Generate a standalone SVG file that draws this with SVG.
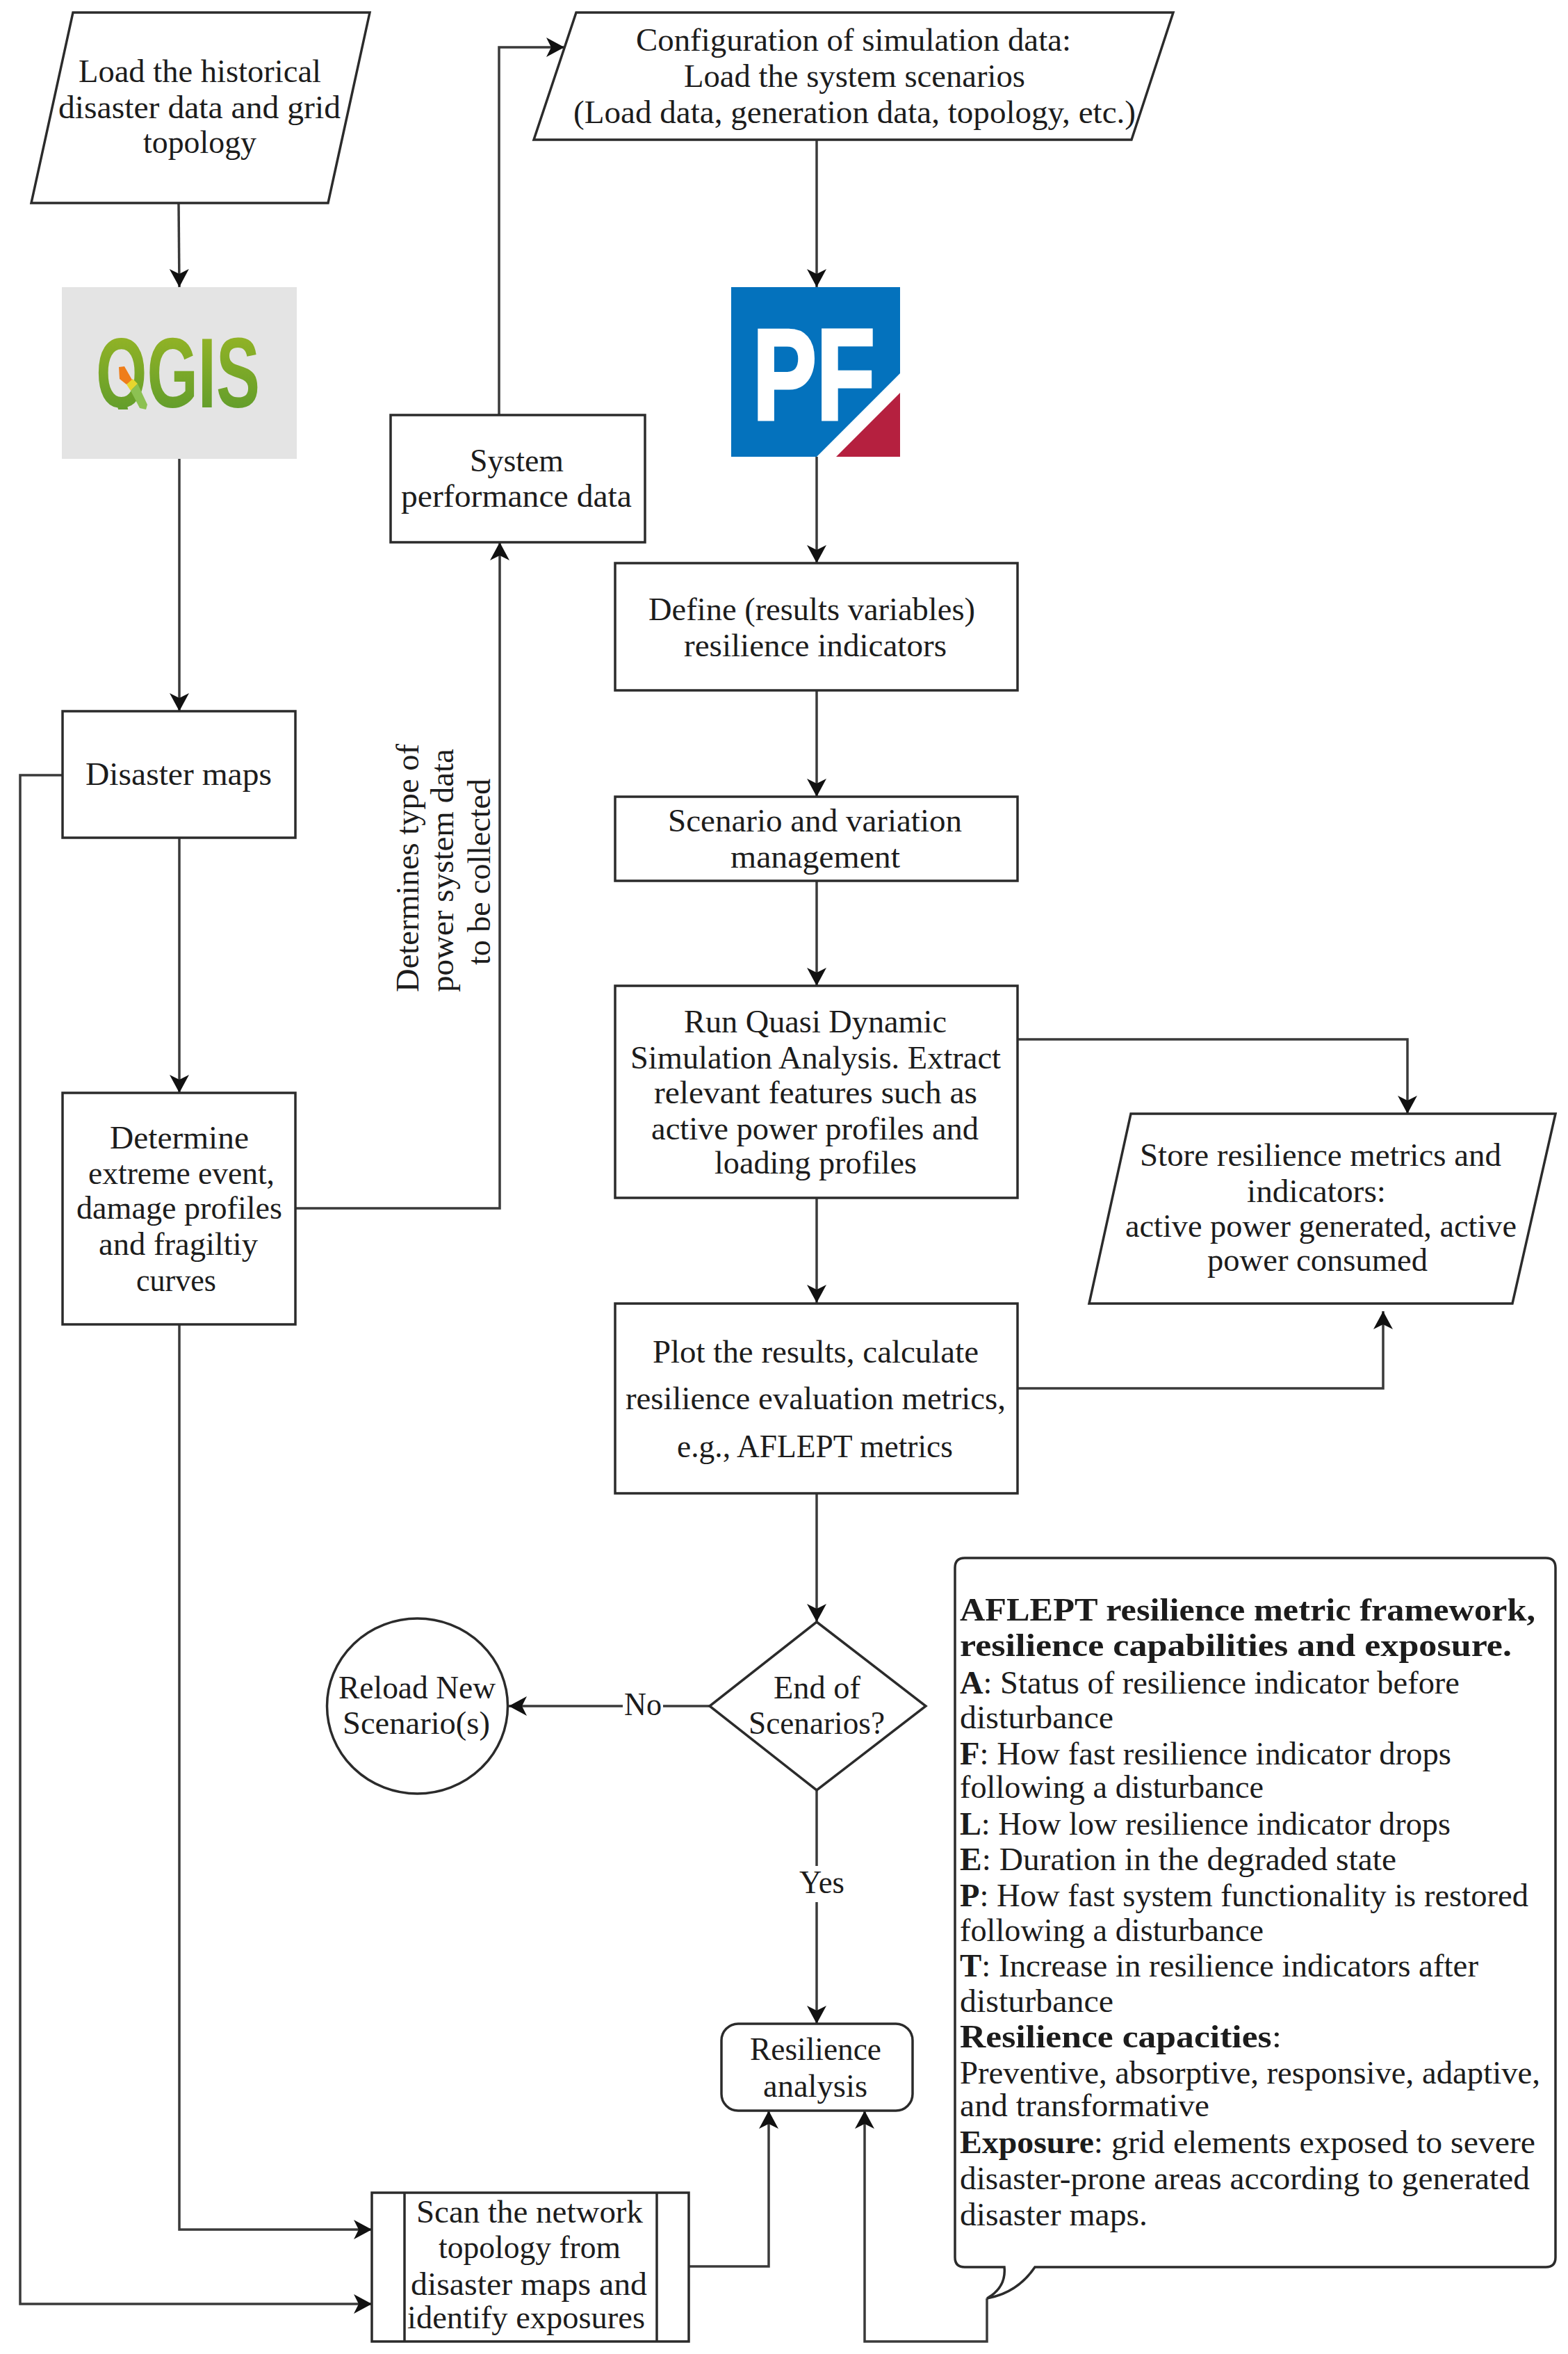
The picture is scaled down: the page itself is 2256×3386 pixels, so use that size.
<svg xmlns="http://www.w3.org/2000/svg" width="2256" height="3386" viewBox="0 0 2256 3386">
<style>
.n{fill:#fff;stroke:#2b2b2b;stroke-width:3.5}
.c{fill:none;stroke:#3a3a3a;stroke-width:3.5}
text{font-family:"Liberation Serif",serif;font-size:46px;fill:#1c1c1c}
.b{font-weight:bold}
</style>
<defs>
<marker id="a" markerUnits="userSpaceOnUse" markerWidth="30" markerHeight="32" refX="26" refY="14" orient="auto"><path d="M0 0L26 14L0 28L7 14Z" fill="#111"/></marker>
<linearGradient id="qg" x1="0" y1="0" x2="0" y2="1"><stop offset="0" stop-color="#9db824"/><stop offset="1" stop-color="#57982d"/></linearGradient>
</defs>
<rect width="2256" height="3386" fill="#fff"/>
<g id="connectors">
<path class="c" marker-end="url(#a)" d="M257 292L258 413"/>
<path class="c" marker-end="url(#a)" d="M258 660V1023"/>
<path class="c" marker-end="url(#a)" d="M258 1205V1572"/>
<path class="c" marker-end="url(#a)" d="M90 1115H29V3314H535"/>
<path class="c" marker-end="url(#a)" d="M258 1905V3207H535"/>
<path class="c" marker-end="url(#a)" d="M425 1738H719V780"/>
<path class="c" marker-end="url(#a)" d="M718 597V68H812"/>
<path class="c" marker-end="url(#a)" d="M1175 201V413"/>
<path class="c" marker-end="url(#a)" d="M1175 657V810"/>
<path class="c" marker-end="url(#a)" d="M1175 993V1146"/>
<path class="c" marker-end="url(#a)" d="M1175 1267V1418"/>
<path class="c" marker-end="url(#a)" d="M1175 1723V1874"/>
<path class="c" marker-end="url(#a)" d="M1175 2148V2333"/>
<path class="c" marker-end="url(#a)" d="M1175 2575V2911"/>
<path class="c" marker-end="url(#a)" d="M1464 1495H2025V1602"/>
<path class="c" marker-end="url(#a)" d="M1464 1997H1990V1886"/>
<path class="c" marker-end="url(#a)" d="M1021 2454H732"/>
<path class="c" marker-end="url(#a)" d="M991 3260H1106V3036"/>
<path class="c" marker-end="url(#a)" d="M1420 3306V3368H1244V3036"/>
<rect x="896" y="2425" width="58" height="56" fill="#fff"/>
<text x="898" y="2467" textLength="54" lengthAdjust="spacingAndGlyphs">No</text>
<rect x="1148" y="2684" width="69" height="52" fill="#fff"/>
<text x="1150" y="2723" textLength="65" lengthAdjust="spacingAndGlyphs">Yes</text>
<g id="edge-note">
<text transform="translate(602 1427) rotate(-90)" textLength="357" lengthAdjust="spacingAndGlyphs">Determines type of</text>
<text transform="translate(652 1427) rotate(-90)" textLength="350" lengthAdjust="spacingAndGlyphs">power system data</text>
<text transform="translate(705 1388) rotate(-90)" textLength="268" lengthAdjust="spacingAndGlyphs">to be collected</text>
</g>
</g>
<g id="load-historical">
<path class="n" d="M105 18H532L472 292H45Z"/>
<text x="113" y="118" textLength="349" lengthAdjust="spacingAndGlyphs">Load the historical</text>
<text x="84" y="170" textLength="406" lengthAdjust="spacingAndGlyphs">disaster data and grid</text>
<text x="206" y="220" textLength="163" lengthAdjust="spacingAndGlyphs">topology</text>
</g>
<g id="qgis">
<rect x="89" y="413" width="338" height="247" fill="#e4e4e4"/>
<text x="138" y="586" textLength="236" lengthAdjust="spacingAndGlyphs" style="font-family:'Liberation Sans',sans-serif;font-weight:bold;font-size:142px;fill:url(#qg)">QGIS</text>
<rect x="136" y="589" width="110" height="30" fill="#e4e4e4"/>
<path d="M171 528L179 527L191 548L182 553L172 545Z" fill="#ef7d1a"/>
<path d="M182 553L191 545L198 552L188 562Z" fill="#e6d62e"/>
<path d="M188 562L198 552L212 582L210 589L201 587Z" fill="#8cc152"/>
</g>
<g id="system-performance">
<rect class="n" x="562" y="597" width="366" height="183"/>
<text x="676" y="678" textLength="135" lengthAdjust="spacingAndGlyphs">System</text>
<text x="577" y="729" textLength="332" lengthAdjust="spacingAndGlyphs">performance data</text>
</g>
<g id="config">
<path class="n" d="M829 18H1688L1628 201H768Z"/>
<text x="915" y="73" textLength="626" lengthAdjust="spacingAndGlyphs">Configuration of simulation data:</text>
<text x="984" y="125" textLength="491" lengthAdjust="spacingAndGlyphs">Load the system scenarios</text>
<text x="825" y="177" textLength="809" lengthAdjust="spacingAndGlyphs">(Load data, generation data, topology, etc.)</text>
</g>
<g id="powerfactory">
<rect x="1052" y="413" width="243" height="244" fill="#0472bd"/>
<path d="M1295 537V657H1175Z" fill="#fff"/>
<path d="M1295 565V657H1203Z" fill="#b5203f"/>
<text x="1083" y="603" textLength="176" lengthAdjust="spacingAndGlyphs" style="font-family:'Liberation Sans',sans-serif;font-weight:bold;font-size:186px;fill:#fff;stroke:#fff;stroke-width:5">PF</text>
</g>
<g id="define">
<rect class="n" x="885" y="810" width="579" height="183"/>
<text x="933" y="892" textLength="470" lengthAdjust="spacingAndGlyphs">Define (results variables)</text>
<text x="984" y="944" textLength="378" lengthAdjust="spacingAndGlyphs">resilience indicators</text>
</g>
<g id="scenario">
<rect class="n" x="885" y="1146" width="579" height="121"/>
<text x="961" y="1196" textLength="423" lengthAdjust="spacingAndGlyphs">Scenario and variation</text>
<text x="1051" y="1248" textLength="244" lengthAdjust="spacingAndGlyphs">management</text>
</g>
<g id="run">
<rect class="n" x="885" y="1418" width="579" height="305"/>
<text x="984" y="1485" textLength="378" lengthAdjust="spacingAndGlyphs">Run Quasi Dynamic</text>
<text x="907" y="1537" textLength="533" lengthAdjust="spacingAndGlyphs">Simulation Analysis. Extract</text>
<text x="941" y="1587" textLength="465" lengthAdjust="spacingAndGlyphs">relevant features such as</text>
<text x="937" y="1639" textLength="471" lengthAdjust="spacingAndGlyphs">active power profiles and</text>
<text x="1028" y="1688" textLength="291" lengthAdjust="spacingAndGlyphs">loading profiles</text>
</g>
<g id="store">
<path class="n" d="M1627 1602H2238L2176 1875H1567Z"/>
<text x="1640" y="1677" textLength="520" lengthAdjust="spacingAndGlyphs">Store resilience metrics and</text>
<text x="1794" y="1729" textLength="200" lengthAdjust="spacingAndGlyphs">indicators:</text>
<text x="1619" y="1779" textLength="563" lengthAdjust="spacingAndGlyphs">active power generated, active</text>
<text x="1737" y="1828" textLength="317" lengthAdjust="spacingAndGlyphs">power consumed</text>
</g>
<g id="plot">
<rect class="n" x="885" y="1875" width="579" height="273"/>
<text x="939" y="1960" textLength="469" lengthAdjust="spacingAndGlyphs">Plot the results, calculate</text>
<text x="900" y="2027" textLength="547" lengthAdjust="spacingAndGlyphs">resilience evaluation metrics,</text>
<text x="974" y="2096" textLength="397" lengthAdjust="spacingAndGlyphs">e.g., AFLEPT metrics</text>
</g>
<g id="disaster-maps">
<rect class="n" x="90" y="1023" width="335" height="182"/>
<text x="123" y="1129" textLength="268" lengthAdjust="spacingAndGlyphs">Disaster maps</text>
</g>
<g id="determine">
<rect class="n" x="90" y="1572" width="335" height="333"/>
<text x="158" y="1652" textLength="200" lengthAdjust="spacingAndGlyphs">Determine</text>
<text x="127" y="1703" textLength="268" lengthAdjust="spacingAndGlyphs">extreme event,</text>
<text x="110" y="1753" textLength="296" lengthAdjust="spacingAndGlyphs">damage profiles</text>
<text x="142" y="1805" textLength="229" lengthAdjust="spacingAndGlyphs">and fragiltiy</text>
<text x="196" y="1857" textLength="115" lengthAdjust="spacingAndGlyphs">curves</text>
</g>
<g id="end-of-scenarios">
<path class="n" d="M1175 2333L1332 2454L1175 2575L1021 2454Z"/>
<text x="1113" y="2443" textLength="125" lengthAdjust="spacingAndGlyphs">End of</text>
<text x="1077" y="2494" textLength="196" lengthAdjust="spacingAndGlyphs">Scenarios?</text>
</g>
<g id="reload">
<ellipse class="n" cx="600.5" cy="2454" rx="130" ry="126"/>
<text x="487" y="2443" textLength="226" lengthAdjust="spacingAndGlyphs">Reload New</text>
<text x="493" y="2494" textLength="212" lengthAdjust="spacingAndGlyphs">Scenario(s)</text>
</g>
<g id="resilience-analysis">
<rect class="n" x="1038" y="2911" width="275" height="125" rx="24"/>
<text x="1079" y="2963" textLength="189" lengthAdjust="spacingAndGlyphs">Resilience</text>
<text x="1098" y="3016" textLength="150" lengthAdjust="spacingAndGlyphs">analysis</text>
</g>
<g id="scan">
<rect class="n" x="535" y="3154" width="456" height="214"/>
<path class="n" d="M582 3154V3368M945 3154V3368"/>
<text x="599" y="3197" textLength="326" lengthAdjust="spacingAndGlyphs">Scan the network</text>
<text x="631" y="3248" textLength="262" lengthAdjust="spacingAndGlyphs">topology from</text>
<text x="591" y="3301" textLength="340" lengthAdjust="spacingAndGlyphs">disaster maps and</text>
<text x="586" y="3349" textLength="342" lengthAdjust="spacingAndGlyphs">identify exposures</text>
</g>
<g id="aflept-note">
<path class="n" d="M1388 2241H2224Q2238 2241 2238 2255V3247Q2238 3261 2224 3261H1489Q1464 3298 1420 3306Q1448 3290 1445 3261H1388Q1374 3261 1374 3247V2255Q1374 2241 1388 2241Z"/>
<text class="b" x="1381" y="2331" textLength="828" lengthAdjust="spacingAndGlyphs">AFLEPT resilience metric framework,</text>
<text class="b" x="1381" y="2382" textLength="794" lengthAdjust="spacingAndGlyphs">resilience capabilities and exposure.</text>
<text x="1381" y="2436" textLength="719" lengthAdjust="spacingAndGlyphs"><tspan class="b">A</tspan>: Status of resilience indicator before</text>
<text x="1381" y="2486" textLength="221" lengthAdjust="spacingAndGlyphs">disturbance</text>
<text x="1381" y="2538" textLength="707" lengthAdjust="spacingAndGlyphs"><tspan class="b">F</tspan>: How fast resilience indicator drops</text>
<text x="1381" y="2586" textLength="437" lengthAdjust="spacingAndGlyphs">following a disturbance</text>
<text x="1381" y="2639" textLength="706" lengthAdjust="spacingAndGlyphs"><tspan class="b">L</tspan>: How low resilience indicator drops</text>
<text x="1381" y="2690" textLength="628" lengthAdjust="spacingAndGlyphs"><tspan class="b">E</tspan>: Duration in the degraded state</text>
<text x="1381" y="2742" textLength="818" lengthAdjust="spacingAndGlyphs"><tspan class="b">P</tspan>: How fast system functionality is restored</text>
<text x="1381" y="2792" textLength="437" lengthAdjust="spacingAndGlyphs">following a disturbance</text>
<text x="1381" y="2843" textLength="746" lengthAdjust="spacingAndGlyphs"><tspan class="b">T</tspan>: Increase in resilience indicators after</text>
<text x="1381" y="2894" textLength="221" lengthAdjust="spacingAndGlyphs">disturbance</text>
<text x="1381" y="2945" textLength="463" lengthAdjust="spacingAndGlyphs"><tspan class="b">Resilience capacities</tspan>:</text>
<text x="1381" y="2997" textLength="835" lengthAdjust="spacingAndGlyphs">Preventive, absorptive, responsive, adaptive,</text>
<text x="1381" y="3044" textLength="359" lengthAdjust="spacingAndGlyphs">and transformative</text>
<text x="1381" y="3097" textLength="828" lengthAdjust="spacingAndGlyphs"><tspan class="b">Exposure</tspan>: grid elements exposed to severe</text>
<text x="1381" y="3149" textLength="820" lengthAdjust="spacingAndGlyphs">disaster-prone areas according to generated</text>
<text x="1381" y="3201" textLength="270" lengthAdjust="spacingAndGlyphs">disaster maps.</text>
</g>
</svg>
